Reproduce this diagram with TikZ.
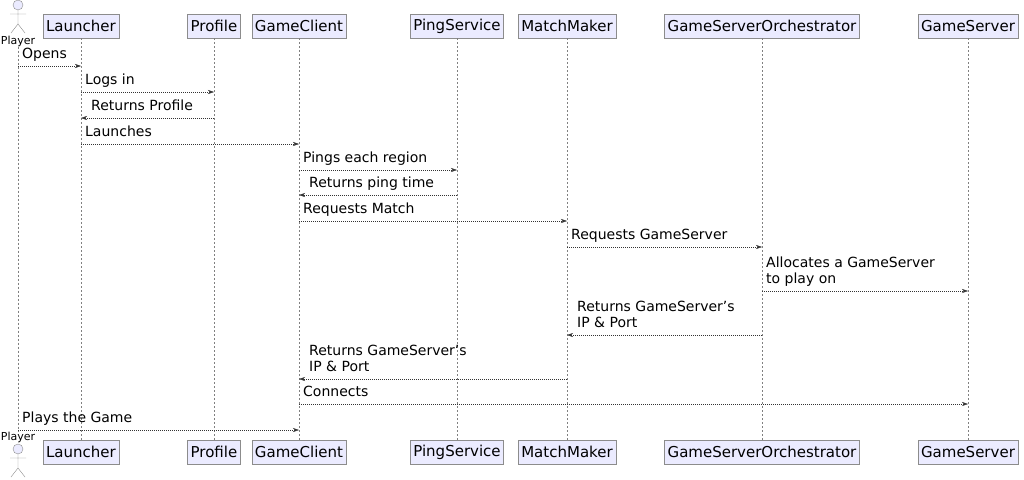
\documentclass[tikz,border=0pt]{standalone}
\usepackage{fontspec}
\setmainfont{DejaVu Sans}
\usetikzlibrary{arrows.meta,calc}

\tikzset{
  head/.style={draw=black!45, fill=blue!8, minimum height=24pt, inner sep=3pt, font=\fontsize{15}{15}\selectfont},
  life/.style={draw=black!50, dash pattern=on 2pt off 2pt},
  msg/.style={draw=black!80, dash pattern=on 1pt off 1pt, -{Stealth[length=6pt,width=4pt]}},
  lbl/.style={font=\fontsize{14}{16}\selectfont, inner sep=0pt, align=left},
}
\newcommand{\actorfig}[2]{%
  \draw[draw=black!45, fill=blue!8] (#1,#2) circle (5);
  \draw[black!45] (#1,#2+5) -- (#1,#2+19) (#1-8,#2+9) -- (#1+8,#2+9)
    (#1-7,#2+28) -- (#1,#2+19) -- (#1+7,#2+28);}
% from, to, y of arrow, label, anchor x of label
\newcommand{\msgline}[5]{%
  \draw[msg] (#1t |- 0,#3) -- (#2t |- 0,#3);
  \node[lbl, anchor=base west] at (#5,#3-8) {#4};}

\begin{document}
\begin{tikzpicture}[x=1pt,y=-1pt]
\useasboundingbox (0,0) rectangle (1024,479);
% heads
\foreach \n/\x in {Launcher/81,Profile/214,GameClient/299,PingService/457,MatchMaker/567,GameServerOrchestrator/762,GameServer/968}{
  \node[head] (\n) at (\x,26) {\n};
  \node[head] (\n b) at (\x,452) {\n};
  \coordinate (\n t) at (\x,0);
  \draw[life] (\n.south) -- (\n b.north);
}
\coordinate (Playert) at (18,0);
\node[font=\fontsize{11}{11}\selectfont, inner sep=0pt] (Player) at (18,41) {Player};
\node[font=\fontsize{11}{11}\selectfont, inner sep=0pt] (Player b) at (18,437) {Player};
\draw[life] (Player.south) -- (Player b.north);
\actorfig{18}{5}
\actorfig{18}{449}
% messages
\msgline{Player}{Launcher}{66}{Opens}{22}
\msgline{Launcher}{Profile}{92}{Logs in}{85}
\msgline{Profile}{Launcher}{118}{Returns Profile}{91}
\msgline{Launcher}{GameClient}{144}{Launches}{85}
\msgline{GameClient}{PingService}{170}{Pings each region}{303}
\msgline{PingService}{GameClient}{195}{Returns ping time}{309}
\msgline{GameClient}{MatchMaker}{221}{Requests Match}{303}
\msgline{MatchMaker}{GameServerOrchestrator}{247}{Requests GameServer}{571}
\msgline{GameServerOrchestrator}{GameServer}{291}{Allocates a GameServer\\to play on}{766}
\msgline{GameServerOrchestrator}{MatchMaker}{335}{Returns GameServer's\\IP \& Port}{577}
\msgline{MatchMaker}{GameClient}{379}{Returns GameServer's\\IP \& Port}{309}
\msgline{GameClient}{GameServer}{404}{Connects}{303}
\msgline{Player}{GameClient}{430}{Plays the Game}{22}
\end{tikzpicture}
\end{document}
